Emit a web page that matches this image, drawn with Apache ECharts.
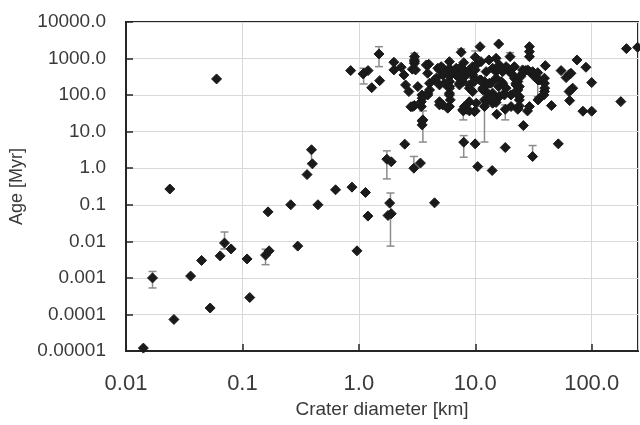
<!DOCTYPE html>
<html>
<head>
<meta charset="utf-8">
<script src="https://cdn.jsdelivr.net/npm/echarts@6/dist/echarts.min.js"></script>
<style>
  html, body { margin: 0; padding: 0; background: #fff; }
  #chart { width: 640px; height: 425px; }
</style>
</head>
<body>
<div id="chart"></div>
<script>
// crater diameter [km] and age [Myr]
var diameters = [
  0.0141, 0.0169, 0.0238, 0.0258, 0.0359, 0.0446, 0.0528, 0.060, 0.0644, 0.0702,
  0.080, 0.1096, 0.1156, 0.158, 0.1695, 0.166, 0.26, 0.2986, 0.359, 0.392,
  0.399, 0.4456, 0.631, 0.851, 0.873, 0.964, 1.09, 1.10, 1.14, 1.197,
  1.20, 1.29, 1.49, 1.51, 1.74, 1.78, 1.84, 1.90, 1.90, 2.0,
  2.0, 2.31, 2.44, 2.48, 2.52, 2.69, 2.8, 2.88, 2.91, 2.97,
  3.0, 3.0, 3.01, 3.01, 3.0, 3.07, 3.21, 3.38, 3.44, 3.44,
  3.48, 3.5, 3.5, 3.55, 3.5, 3.8, 3.9, 3.91, 3.9, 3.99,
  4.05, 4.05, 4.47, 4.47, 4.62, 4.77, 4.93, 4.93, 4.93, 4.93,
  5.0, 5.1, 5.26, 5.26, 5.26, 5.44, 5.8, 6.0, 6.0, 6.0,
  6.0, 6.0, 6.0, 6.0, 6.0, 6.0, 6.1, 6.0, 6.86, 6.86,
  6.86, 7.08, 7.31, 7.31, 7.31, 7.57, 7.57, 7.8, 7.82, 7.82,
  7.9, 7.96, 7.96, 8.07, 8.07, 8.36, 8.4, 8.9, 8.91, 8.9,
  8.9, 8.9, 9.5, 9.5, 9.5, 9.84, 9.84, 9.8, 9.98, 10.0,
  10.0, 10.0, 10.2, 10.2, 10.5, 10.9, 11.0, 11.2, 11.2, 11.6,
  11.6, 12.0, 12.0, 12.0, 12.4, 12.4, 12.4, 12.8, 12.8, 13.1,
  13.2, 13.7, 13.97, 14.1, 14.1, 14.1, 15.1, 15.1, 15.1, 15.1,
  15.1, 15.3, 15.9, 15.9, 16.1, 16.1, 16.1, 16.7, 17.2, 17.2,
  17.8, 17.8, 18.1, 18.1, 18.4, 18.4, 19.0, 19.6, 19.9, 20.3,
  20.3, 21.0, 21.7, 21.7, 21.7, 22.4, 22.4, 22.4, 23.2, 23.2,
  23.2, 23.2, 23.9, 23.9, 23.9, 23.9, 24.6, 25.5, 25.5, 25.9,
  26.9, 28.1, 28.2, 29.2, 29.2, 29.2, 29.2, 29.2, 31.1, 31.1,
  32.2, 34.4, 34.6, 34.6, 35.6, 35.6, 38.8, 39.3, 39.3, 39.5,
  39.3, 40.0, 45.1, 51.7, 54.6, 60.3, 64.3, 66.4, 64.0, 66.4,
  68.7, 64.7, 74.8, 84.1, 89.3, 100, 100, 178, 199, 248
];
var ages = [
  0.000012, 0.001, 0.27, 0.000073, 0.00112, 0.003, 0.00015, 277, 0.004, 0.009,
  0.0062, 0.0033, 0.00029, 0.0042, 0.0055, 0.064, 0.1, 0.0074, 0.67, 3.2,
  1.32, 0.1, 0.257, 468, 0.304, 0.0055, 380, 396, 0.217, 0.049,
  468, 160, 1336, 249, 1.77, 0.051, 0.111, 0.057, 1.5, 792,
  489, 578, 357, 4.55, 190, 125, 48, 511, 48.6, 1.0,
  916, 744, 1128, 822, 52, 489, 171, 1.38, 66, 48.6,
  101, 19.7, 15.3, 21, 82, 668, 396, 101, 113, 698,
  139, 211, 0.113, 260, 290, 543, 489, 54, 190, 66,
  543, 601, 357, 543, 54, 211, 43.9, 822, 543, 439,
  321, 234, 171, 155, 113, 101, 74, 48.6, 543, 357,
  489, 321, 543, 190, 211, 1486, 439, 39.5, 290, 234,
  37, 773, 5.16, 470, 48.6, 357, 41, 37, 190, 66,
  489, 155, 601, 357, 125, 290, 35.4, 234, 4.64, 1087,
  489, 37, 668, 60, 1.11, 260, 2113, 822, 260, 139,
  155, 234, 48.6, 74, 439, 66, 190, 82, 113, 916,
  211, 211, 0.865, 543, 113, 60, 1018, 290, 439, 63,
  74, 30, 2506, 171, 668, 601, 91, 234, 439, 211,
  113, 101, 3.68, 41, 601, 155, 543, 439, 1128, 101,
  48.6, 543, 601, 290, 321, 190, 211, 125, 41, 234,
  139, 44, 91, 50.7, 171, 74, 321, 396, 489, 14.7,
  468, 37, 489, 2113, 1545, 1128, 439, 48.6, 439, 2.09,
  321, 412, 260, 74, 260, 82, 101, 290, 211, 155,
  125, 640, 51.6, 4.64, 468, 301, 372, 396, 125, 139,
  155, 70.8, 916, 36.3, 578, 36.3, 220, 66.4, 1868, 2037
];

// error bars: diameter, lower age, upper age
var errDiameters = [0.0169, 0.0702, 0.158, 0.392, 1.10, 1.49, 1.74, 1.87, 2.97, 3.0, 3.55, 7.57, 7.9, 7.96, 10.0, 12.0, 18.1, 19.9, 31.1, 34.4];
var errLow =       [0.00053, 0.0062, 0.0023, 1.4, 202, 601, 0.51, 0.0074, 1.0, 1128, 5.2, 1486, 21, 2.0, 1087, 5.2, 21, 1128, 2.09, 91];
var errHigh =      [0.0015, 0.018, 0.0061, 3.2, 543, 2113, 2.99, 0.21, 2.1, 1400, 37, 1830, 37, 7.8, 1614, 234, 54, 1450, 4.17, 412];

var xTickLabels = ['0.01', '0.1', '1.0', '10.0', '100.0'];
var yTickLabels = ['0.00001', '0.0001', '0.001', '0.01', '0.1', '1.0', '10.0', '100.0', '1000.0', '10000.0'];

var points = diameters.map(function (d, i) { return [d, ages[i]]; });
var bars = errDiameters.map(function (d, i) { return [d, errLow[i], errHigh[i]]; });

function fmtX(v) {
  var e = Math.round(Math.log10(v));
  return xTickLabels[e + 2] || '';
}
function fmtY(v) {
  var e = Math.round(Math.log10(v));
  return yTickLabels[e + 5] || '';
}

var textColor = '#3a3a3a';
var axisColor = '#262626';
var font = 'Liberation Sans';

var chart = echarts.init(document.getElementById('chart'));
chart.setOption({
  animation: false,
  grid: {
    left: 126, right: 2, top: 22, bottom: 74,
    show: true, borderColor: axisColor, borderWidth: 2
  },
  xAxis: {
    type: 'log', logBase: 10, min: 0.01, max: 250,
    name: 'Crater diameter [km]', nameLocation: 'middle', nameGap: 47,
    nameTextStyle: { fontSize: 19, color: textColor, fontFamily: font },
    axisLine: { show: true, lineStyle: { color: axisColor, width: 2 } },
    axisTick: { show: true, inside: true, length: 7, lineStyle: { color: axisColor, width: 1.5 } },
    axisLabel: { formatter: fmtX, fontSize: 22, color: textColor, fontFamily: font, margin: 22, showMaxLabel: false },
    splitLine: { show: true, lineStyle: { color: '#d9d9d9', width: 1 } }
  },
  yAxis: {
    type: 'log', logBase: 10, min: 0.00001, max: 10000,
    name: 'Age [Myr]', nameLocation: 'middle', nameGap: 98,
    nameTextStyle: { fontSize: 18, color: textColor, fontFamily: font },
    axisLine: { show: true, lineStyle: { color: axisColor, width: 2 } },
    axisTick: { show: true, inside: true, length: 7, lineStyle: { color: axisColor, width: 1.5 } },
    axisLabel: { formatter: fmtY, fontSize: 19, color: textColor, fontFamily: font, margin: 20 },
    splitLine: { show: true, lineStyle: { color: '#d9d9d9', width: 1 } }
  },
  series: [
    {
      type: 'custom',
      name: 'error',
      z: 1,
      data: bars,
      encode: { x: 0, y: [1, 2] },
      renderItem: function (params, api) {
        var x = api.value(0);
        var lo = api.coord([x, api.value(1)]);
        var hi = api.coord([x, api.value(2)]);
        var w = 4;
        var st = { stroke: '#8c8c8c', lineWidth: 1.5 };
        return {
          type: 'group',
          children: [
            { type: 'line', shape: { x1: lo[0], y1: lo[1], x2: hi[0], y2: hi[1] }, style: st },
            { type: 'line', shape: { x1: lo[0] - w, y1: lo[1], x2: lo[0] + w, y2: lo[1] }, style: st },
            { type: 'line', shape: { x1: hi[0] - w, y1: hi[1], x2: hi[0] + w, y2: hi[1] }, style: st }
          ]
        };
      }
    },
    {
      type: 'scatter',
      name: 'craters',
      z: 3,
      symbol: 'diamond',
      symbolSize: 10,
      itemStyle: { color: '#1a1a1a', opacity: 1, borderColor: '#1a1a1a', borderWidth: 1 },
      data: points
    }
  ]
});
</script>
</body>
</html>
